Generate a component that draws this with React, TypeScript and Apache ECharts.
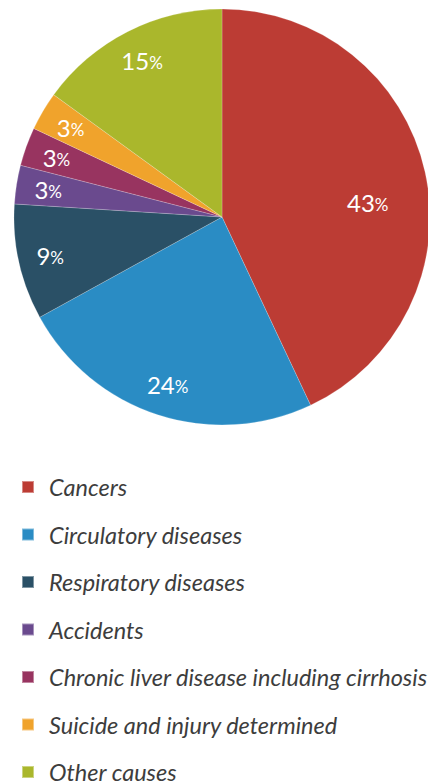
import React, { useEffect, useRef } from "react";
import * as echarts from "echarts";

const categories = [
  "Cancers",
  "Circulatory diseases",
  "Respiratory diseases",
  "Accidents",
  "Chronic liver disease including cirrhosis",
  "Suicide and injury determined",
  "Other causes",
];
const values = [43, 24, 9, 3, 3, 3, 15];
const colors = ["#BC3C34", "#2A8CC4", "#2A5066", "#6A4A8E", "#983460", "#F0A32C", "#AAB72C"];

export default function App() {
  const ref = useRef<HTMLDivElement>(null);
  useEffect(() => {
    if (!ref.current) return;
    const chart = echarts.init(ref.current, null, { renderer: "svg" });
    const data = categories.map((name, i) => ({
      name,
      value: values[i],
      itemStyle: { color: colors[i] },
    }));
    chart.setOption({
      animation: false,
      legend: {
        orient: "vertical",
        left: 21,
        top: 475,
        height: 320,
        icon: "rect",
        itemWidth: 12,
        itemHeight: 12,
        itemGap: 23.5,
        padding: 0,
        selectedMode: false,
        data: categories,
        textStyle: {
          fontFamily: "Lato",
          fontStyle: "italic",
          fontSize: 23.5,
          color: "#3d3d3d",
          lineHeight: 24,
          padding: [0, 0, 0, 10],
        },
      },
      series: [
        {
          type: "pie",
          center: [222, 217],
          radius: [0, 208],
          startAngle: 90,
          clockwise: true,
          silent: true,
          label: { show: false },
          labelLine: { show: false },
          itemStyle: { borderColor: "rgba(255,255,255,0.4)", borderWidth: 0.5 },
          data,
        },
        {
          type: "pie",
          center: [222, 217],
          radius: [138, 208],
          startAngle: 90,
          clockwise: true,
          silent: true,
          legendHoverLink: false,
          itemStyle: { color: "transparent" },
          label: {
            show: true,
            position: "inside",
            formatter: (p: any) => `{n|${p.value}}{p|%}`,
            rich: {
              n: { fontFamily: "Lato", fontSize: 24, color: "#fff" },
              p: { fontFamily: "Lato", fontSize: 17, color: "#fff", padding: [4, 0, 0, 0] },
            },
          },
          labelLayout: (params: any) => {
            if (params.dataIndex === 0) return { dx: -26, dy: 24 };
            return {};
          },
          labelLine: { show: false },
          data: categories.map((name, i) => ({ name: name + " ", value: values[i] })),
        },
      ],
    });
    return () => chart.dispose();
  }, []);
  return (
    <div
      ref={ref}
      style={{ position: "absolute", left: 0, top: 0, width: 428, height: 783 }}
    />
  );
}
